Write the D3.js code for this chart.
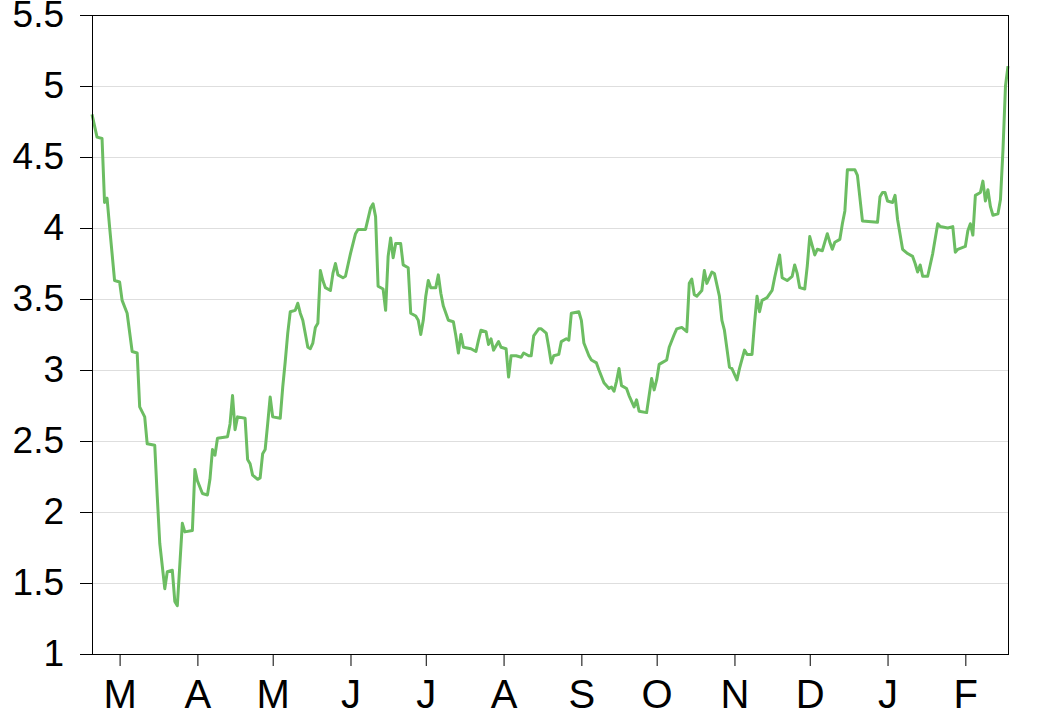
<!DOCTYPE html>
<html>
<head>
<meta charset="utf-8">
<script src="https://cdn.jsdelivr.net/npm/d3@7"></script>
<style>
  html, body { margin: 0; padding: 0; background: #fff; }
  svg { display: block; }
  text { font-family: "Liberation Sans", Arial, Helvetica, sans-serif; }
</style>
</head>
<body>
<svg id="chart" width="1040" height="708"></svg>
<script>
// ---- data ----
const startDate = "2020-02-19";
const endDayIndex = 365;
const dayIndex = [
  0,2,4,5,6,7,9,11,12,14,16,18,19,21,22,25,26,27,29,30,32,33,34,36,37,40,41,42,44,46,47,48,49,50,54,55,56,57,58,61,
  62,63,64,66,67,68,69,70,71,72,75,76,77,78,79,81,82,83,84,86,87,88,89,90,91,92,93,95,96,97,98,100,101,103,105,106,109,111,112,113,
  114,116,117,118,119,120,121,123,124,126,127,129,130,131,132,133,134,135,137,138,139,140,142,144,145,146,147,148,151,153,154,155,157,158,159,160,162,163,165,166,
  167,169,171,172,174,175,176,178,179,181,182,183,184,186,187,189,190,191,194,195,196,198,199,201,202,204,206,207,208,209,210,211,213,214,216,217,218,221,223,224,
  225,226,227,229,230,232,233,235,237,238,239,240,241,243,244,245,247,248,250,251,252,254,255,257,258,260,261,263,264,265,266,267,269,271,272,274,275,277,279,280,
  281,282,284,285,286,288,289,291,293,294,295,296,298,299,300,301,304,305,307,313,314,315,316,317,319,320,321,323,325,327,328,329,330,331,333,335,337,338,341,343,
  344,345,348,349,350,351,352,354,355,356,357,358,359,361,362,363,364,365
];
const values = [
  4.80,4.64,4.63,4.18,4.21,4.01,3.63,3.62,3.49,3.40,3.13,3.12,2.74,2.67,2.48,2.47,2.11,1.78,1.46,1.58,1.59,1.37,1.34,1.92,1.86,1.87,2.30,2.22,2.13,2.12,2.23,2.44,2.40,2.52,2.53,2.62,2.82,2.58,2.67,2.66,
  2.37,2.34,2.26,2.23,2.24,2.41,2.44,2.62,2.81,2.67,2.66,2.88,3.06,3.26,3.41,3.42,3.47,3.40,3.35,3.16,3.15,3.19,3.30,3.33,3.70,3.63,3.58,3.56,3.68,3.75,3.67,3.65,3.66,3.82,3.96,3.99,3.99,4.14,4.17,4.08,
  3.59,3.57,3.42,3.80,3.93,3.79,3.89,3.89,3.74,3.72,3.40,3.38,3.35,3.25,3.35,3.52,3.63,3.58,3.58,3.67,3.54,3.45,3.35,3.34,3.24,3.12,3.25,3.16,3.15,3.13,3.21,3.28,3.27,3.18,3.22,3.14,3.20,3.16,3.15,2.95,
  3.10,3.10,3.09,3.12,3.10,3.10,3.24,3.29,3.29,3.26,3.16,3.05,3.10,3.11,3.20,3.22,3.21,3.40,3.41,3.35,3.19,3.10,3.07,3.05,3.00,2.91,2.87,2.88,2.85,2.92,3.01,2.89,2.87,2.82,2.74,2.79,2.71,2.70,2.94,2.86,
  2.93,3.04,3.05,3.07,3.16,3.25,3.29,3.30,3.27,3.61,3.64,3.53,3.52,3.56,3.70,3.61,3.69,3.68,3.52,3.35,3.28,3.02,3.01,2.93,3.01,3.14,3.11,3.11,3.33,3.52,3.41,3.49,3.51,3.56,3.65,3.81,3.65,3.63,3.66,3.74,
  3.68,3.58,3.57,3.73,3.94,3.81,3.85,3.84,3.96,3.90,3.85,3.90,3.92,4.03,4.12,4.41,4.41,4.37,4.05,4.04,4.22,4.25,4.25,4.19,4.18,4.23,4.06,3.85,3.82,3.80,3.75,3.69,3.74,3.66,3.66,3.82,4.03,4.01,4.00,4.01,
  3.83,3.85,3.87,3.98,4.03,3.95,4.23,4.25,4.33,4.19,4.27,4.15,4.09,4.10,4.20,4.55,5.00,5.14
];
const monthLabels = ["M","A","M","J","J","A","S","O","N","D","J","F"];
const yTicks = [1, 1.5, 2, 2.5, 3, 3.5, 4, 4.5, 5, 5.5];

(function () {
  // ---- layout ----
  const mLeft = 92, mRight = 1008, mTop = 15, mBottom = 654;
  const lineColor = "#6cbd62";

  const svg = d3.select("#chart");
  const start = new Date(startDate + "T00:00:00Z");
  const end = d3.utcDay.offset(start, endDayIndex);
  const n = Math.min(dayIndex.length, values.length);
  const data = d3.range(n).map(i => ({ date: d3.utcDay.offset(start, dayIndex[i]), value: values[i] }));

  const x = d3.scaleUtc().domain([start, end]).range([mLeft, mRight]);
  const y = d3.scaleLinear().domain([1, 5.5]).range([mBottom, mTop]);

  // gridlines
  svg.append("g")
    .selectAll("line")
    .data(yTicks)
    .join("line")
    .attr("x1", mLeft).attr("x2", mRight)
    .attr("y1", d => y(d)).attr("y2", d => y(d))
    .attr("stroke", "#dedede")
    .attr("stroke-width", 1)
    .attr("shape-rendering", "crispEdges");

  // line
  svg.append("path")
    .datum(data)
    .attr("fill", "none")
    .attr("stroke", lineColor)
    .attr("stroke-width", 3)
    .attr("stroke-linejoin", "round")
    .attr("d", d3.line().x(d => x(d.date)).y(d => y(d.value)));

  // frame
  svg.append("rect")
    .attr("x", mLeft).attr("y", mTop)
    .attr("width", mRight - mLeft).attr("height", mBottom - mTop)
    .attr("fill", "none").attr("stroke", "#000").attr("stroke-width", 1)
    .attr("shape-rendering", "crispEdges");

  // x axis
  const monthTicks = d3.utcMonth.range(d3.utcMonth.ceil(start), end);
  const xAxis = d3.axisBottom(x)
    .tickValues(monthTicks)
    .tickFormat((d, i) => monthLabels[i])
    .tickSize(12)
    .tickSizeOuter(0)
    .tickPadding(14);
  const gx = svg.append("g").attr("transform", `translate(0,${mBottom})`).call(xAxis);
  gx.select(".domain").attr("stroke", "#000");
  gx.selectAll(".tick line").attr("stroke", "#000");
  gx.selectAll(".tick text").attr("font-size", 40).attr("fill", "#000")
    .attr("font-family", "'Liberation Sans', Arial, sans-serif");

  // y axis
  const yAxis = d3.axisLeft(y)
    .tickValues(yTicks)
    .tickFormat(d => String(d))
    .tickSize(12)
    .tickSizeOuter(0)
    .tickPadding(16);
  const gy = svg.append("g").attr("transform", `translate(${mLeft},0)`).call(yAxis);
  gy.select(".domain").attr("stroke", "#000");
  gy.selectAll(".tick line").attr("stroke", "#000");
  gy.selectAll(".tick text").attr("font-size", 37).attr("fill", "#000")
    .attr("font-family", "'Liberation Sans', Arial, sans-serif");
})();
</script>
</body>
</html>
